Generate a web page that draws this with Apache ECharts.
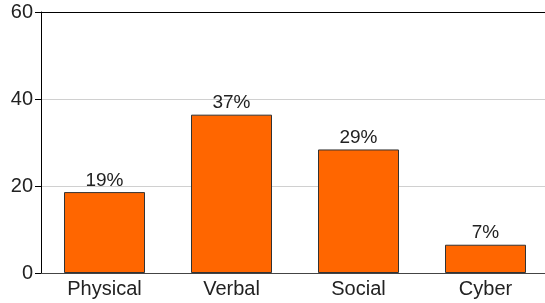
<!DOCTYPE html>
<html lang="en">

<head>
    <meta charset="UTF-8">
    <title>Bullying by type</title>
    <script src="https://cdn.jsdelivr.net/npm/echarts@6/dist/echarts.min.js"></script>
    <style>
        body { margin: 0; }
        #chart { width: 545px; height: 303px; }
    </style>
</head>

<body>
    <div id="chart"></div>
    <script>
        var categories = ['Physical', 'Verbal', 'Social', 'Cyber'];
        var values = [18.6, 36.4, 28.4, 6.5];
        var labels = ['19%', '37%', '29%', '7%'];
        var yTicks = [0, 20, 40, 60];

        var chart = echarts.init(document.getElementById('chart'));
        chart.setOption({
            animation: false,
            textStyle: { fontFamily: 'Liberation Sans' },
            // plot runs past the right edge of the picture
            grid: { left: 41, width: 508, top: 12, bottom: 30, outerBoundsMode: 'none' },
            xAxis: [{
                type: 'category',
                data: categories,
                axisTick: { show: false },
                axisLine: { lineStyle: { color: '#444' } },
                axisLabel: { color: '#222', fontSize: 20, margin: 6 }
            }, {
                // top frame line only
                type: 'category',
                position: 'top',
                data: categories,
                axisTick: { show: false },
                axisLabel: { show: false },
                axisLine: { lineStyle: { color: '#000' } }
            }],
            yAxis: {
                type: 'value',
                min: yTicks[0],
                max: yTicks[yTicks.length - 1],
                interval: 20,
                axisLine: { show: true, lineStyle: { color: '#000' } },
                axisTick: { show: true, length: 6, lineStyle: { color: '#000' } },
                axisLabel: { color: '#222', fontSize: 20, margin: 8 },
                splitLine: { lineStyle: { color: '#d0d0d0' } }
            },
            series: [{
                type: 'bar',
                data: values,
                barWidth: 81,
                itemStyle: { color: '#ff6600', borderColor: '#333', borderWidth: 1 },
                label: {
                    show: true,
                    position: 'top',
                    distance: 2,
                    color: '#222',
                    fontSize: 19,
                    formatter: function (p) { return labels[p.dataIndex]; }
                }
            }]
        });
    </script>
</body>

</html>
